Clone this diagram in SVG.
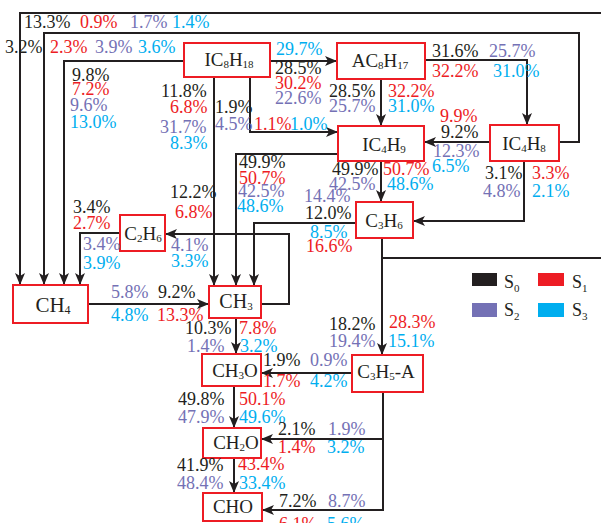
<svg xmlns="http://www.w3.org/2000/svg" width="601" height="523" viewBox="0 0 601 523">
<defs>
<marker id="ah" viewBox="0 0 12 10" refX="12" refY="5" markerWidth="12" markerHeight="10" markerUnits="userSpaceOnUse" orient="auto">
<path d="M0,0 L12,5 L0,10 L3,5 z" fill="#231f20"/>
</marker>
<style>
text{font-family:"Liberation Serif","Times New Roman",serif;font-size:18px}
.k{fill:#231f20}.r{fill:#ed1c24}.p{fill:#7471b5}.b{fill:#00aeef}
.n rect{fill:#fff;stroke:#ed1c24;stroke-width:2}
.n text{fill:#231f20;text-anchor:middle;font-size:19px}
.c path{fill:none;stroke:#231f20;stroke-width:2}
.c path.a{marker-end:url(#ah)}
</style>
</defs>
<rect width="601" height="523" fill="#fff"/>
<g id="connectors" class="c">
<path class="a" d="M601,13 H20 V285"/>
<path class="a" d="M559,142 H579 V33 H44 V285"/>
<path class="a" d="M184,61 H64 V285"/>
<path class="a" d="M120,233 H80 V285"/>
<path class="a" d="M214,77 V286"/>
<path class="a" d="M250,77 V132 H338"/>
<path class="a" d="M270,61 H337"/>
<path class="a" d="M381,79 V126"/>
<path class="a" d="M425,60 H527 V125"/>
<path class="a" d="M490,142 H424"/>
<path class="a" d="M524,161 V221 H413"/>
<path class="a" d="M381,161 V202"/>
<path class="a" d="M338,154 H236 V286"/>
<path class="a" d="M356,223 H254 V286"/>
<path class="a" d="M261,304 H289 V234 H165"/>
<path class="a" d="M88,304 H209"/>
<path class="a" d="M236,318 V354"/>
<path class="a" d="M382,238 V355"/>
<path d="M382,258 H601"/>
<path class="a" d="M352,373 H261"/>
<path class="a" d="M234,386 V428"/>
<path class="a" d="M383,392 V510 H262"/>
<path class="a" d="M383,439 H261"/>
<path class="a" d="M234,458 V493"/>
</g>
<g id="IC8H18" class="n"><rect x="184" y="43" width="86" height="34"/><text x="229" y="66">IC<tspan font-size="11" dy="2">8</tspan><tspan dy="-2">H</tspan><tspan font-size="11" dy="2">18</tspan></text></g>
<g id="AC8H17" class="n"><rect x="337" y="43" width="88" height="36"/><text x="380" y="67">AC<tspan font-size="11" dy="2">8</tspan><tspan dy="-2">H</tspan><tspan font-size="11" dy="2">17</tspan></text></g>
<g id="IC4H8" class="n"><rect x="490" y="125" width="69" height="36"/><text x="524" y="150">IC<tspan font-size="11" dy="2">4</tspan><tspan dy="-2">H</tspan><tspan font-size="11" dy="2">8</tspan></text></g>
<g id="IC4H9" class="n"><rect x="338" y="126" width="86" height="35"/><text x="384" y="151">IC<tspan font-size="11" dy="2">4</tspan><tspan dy="-2">H</tspan><tspan font-size="11" dy="2">9</tspan></text></g>
<g id="C3H6" class="n"><rect x="356" y="202" width="57" height="36"/><text x="384" y="227">C<tspan font-size="11" dy="2">3</tspan><tspan dy="-2">H</tspan><tspan font-size="11" dy="2">6</tspan></text></g>
<g id="C2H6" class="n"><rect x="120" y="215" width="45" height="36"/><text x="143" y="240">C<tspan font-size="11" dy="2">2</tspan><tspan dy="-2">H</tspan><tspan font-size="11" dy="2">6</tspan></text></g>
<g id="CH4" class="n"><rect x="13" y="285" width="75" height="38"/><text x="53" y="312" style="font-size:21px">CH<tspan font-size="12" dy="2">4</tspan></text></g>
<g id="CH3" class="n"><rect x="209" y="286" width="52" height="32"/><text x="236" y="308" style="font-size:20px">CH<tspan font-size="11" dy="2">3</tspan></text></g>
<g id="CH3O" class="n"><rect x="202" y="354" width="59" height="32"/><text x="235" y="377">CH<tspan font-size="11" dy="2">3</tspan><tspan dy="-2">O</tspan></text></g>
<g id="C3H5-A" class="n"><rect x="352" y="355" width="71" height="37"/><text x="386" y="378">C<tspan font-size="11" dy="2">3</tspan><tspan dy="-2">H</tspan><tspan font-size="11" dy="2">5</tspan><tspan dy="-2">-A</tspan></text></g>
<g id="CH2O" class="n"><rect x="203" y="428" width="58" height="30"/><text x="236" y="449">CH<tspan font-size="11" dy="2">2</tspan><tspan dy="-2">O</tspan></text></g>
<g id="CHO" class="n"><rect x="203" y="493" width="59" height="28"/><text x="233" y="513">CHO</text></g>
<g id="labels">
<text class="k" x="24" y="28">13.3%</text><text class="r" x="80" y="28">0.9%</text><text class="p" x="130" y="28">1.7%</text><text class="b" x="172" y="28">1.4%</text>
<text class="k" x="5" y="53">3.2%</text><text class="r" x="50" y="53">2.3%</text><text class="p" x="95" y="53">3.9%</text><text class="b" x="138" y="53">3.6%</text>
<text class="k" x="72" y="81">9.8%</text><text class="r" x="72" y="95">7.2%</text><text class="p" x="70" y="111">9.6%</text><text class="b" x="70" y="128">13.0%</text>
<text class="k" x="161" y="97">11.8%</text><text class="r" x="170" y="113">6.8%</text><text class="p" x="160" y="133">31.7%</text><text class="b" x="170" y="149">8.3%</text>
<text class="b" x="276" y="55">29.7%</text><text class="k" x="275" y="74">28.5%</text><text class="r" x="275" y="89">30.2%</text><text class="p" x="275" y="104">22.6%</text>
<text class="k" x="329" y="97">28.5%</text><text class="p" x="329" y="112">25.7%</text><text class="r" x="388" y="97">32.2%</text><text class="b" x="388" y="112">31.0%</text>
<text class="k" x="215" y="113">1.9%</text><text class="p" x="215" y="130">4.5%</text><text class="r" x="254" y="130">1.1%</text><text class="b" x="290" y="130">1.0%</text>
<text class="k" x="432" y="57">31.6%</text><text class="p" x="489" y="57">25.7%</text><text class="r" x="432" y="77">32.2%</text><text class="b" x="493" y="77">31.0%</text>
<text class="r" x="440" y="122">9.9%</text><text class="k" x="441" y="138">9.2%</text><text class="p" x="433" y="157">12.3%</text><text class="b" x="432" y="172">6.5%</text>
<text class="k" x="485" y="179">3.1%</text><text class="r" x="532" y="179">3.3%</text><text class="p" x="483" y="197">4.8%</text><text class="b" x="532" y="197">2.1%</text>
<text class="k" x="239" y="168">49.9%</text><text class="r" x="239" y="184">50.7%</text><text class="p" x="238" y="197">42.5%</text><text class="b" x="237" y="212">48.6%</text>
<text class="k" x="332" y="175">49.9%</text><text class="p" x="329" y="190">42.5%</text><text class="r" x="383" y="175">50.7%</text><text class="b" x="387" y="190">48.6%</text>
<text class="p" x="304" y="202">14.4%</text><text class="k" x="305" y="219">12.0%</text><text class="b" x="310" y="238">8.5%</text><text class="r" x="306" y="252">16.6%</text>
<text class="k" x="73" y="213">3.4%</text><text class="r" x="73" y="229">2.7%</text><text class="p" x="83" y="250">3.4%</text><text class="b" x="83" y="269">3.9%</text>
<text class="k" x="170" y="198">12.2%</text><text class="r" x="175" y="218">6.8%</text><text class="p" x="171" y="251">4.1%</text><text class="b" x="171" y="267">3.3%</text>
<text class="p" x="111" y="298">5.8%</text><text class="k" x="158" y="298">9.2%</text><text class="b" x="111" y="321">4.8%</text><text class="r" x="157" y="321">13.3%</text>
<text class="k" x="185" y="334">10.3%</text><text class="r" x="239" y="334">7.8%</text><text class="p" x="187" y="352">1.4%</text><text class="b" x="240" y="352">3.2%</text>
<text class="k" x="329" y="330">18.2%</text><text class="r" x="389" y="328">28.3%</text><text class="p" x="329" y="347">19.4%</text><text class="b" x="388" y="347">15.1%</text>
<text class="k" x="263" y="366">1.9%</text><text class="p" x="310" y="366">0.9%</text><text class="r" x="263" y="387">1.7%</text><text class="b" x="310" y="387">4.2%</text>
<text class="k" x="178" y="405">49.8%</text><text class="r" x="239" y="405">50.1%</text><text class="p" x="178" y="423">47.9%</text><text class="b" x="239" y="423">49.6%</text>
<text class="k" x="278" y="435">2.1%</text><text class="p" x="328" y="435">1.9%</text><text class="r" x="278" y="453">1.4%</text><text class="b" x="327" y="453">3.2%</text>
<text class="k" x="177" y="471">41.9%</text><text class="r" x="238" y="470">43.4%</text><text class="p" x="177" y="489">48.4%</text><text class="b" x="239" y="489">33.4%</text>
<text class="k" x="279" y="507">7.2%</text><text class="p" x="328" y="507">8.7%</text><text class="r" x="279" y="530">6.1%</text><text class="b" x="327" y="530">5.6%</text>
</g>
<g id="legend">
<rect x="472" y="273" width="25" height="13" fill="#231f20"/><text class="k" x="504" y="288">S<tspan font-size="11" dy="4">0</tspan></text>
<rect x="538" y="273" width="26" height="13" fill="#ed1c24"/><text class="k" x="572" y="288">S<tspan font-size="11" dy="4">1</tspan></text>
<rect x="472" y="303" width="25" height="14" fill="#7471b5"/><text class="k" x="504" y="316">S<tspan font-size="11" dy="4">2</tspan></text>
<rect x="538" y="303" width="26" height="14" fill="#00aeef"/><text class="k" x="572" y="316">S<tspan font-size="11" dy="4">3</tspan></text>
</g>
</svg>
